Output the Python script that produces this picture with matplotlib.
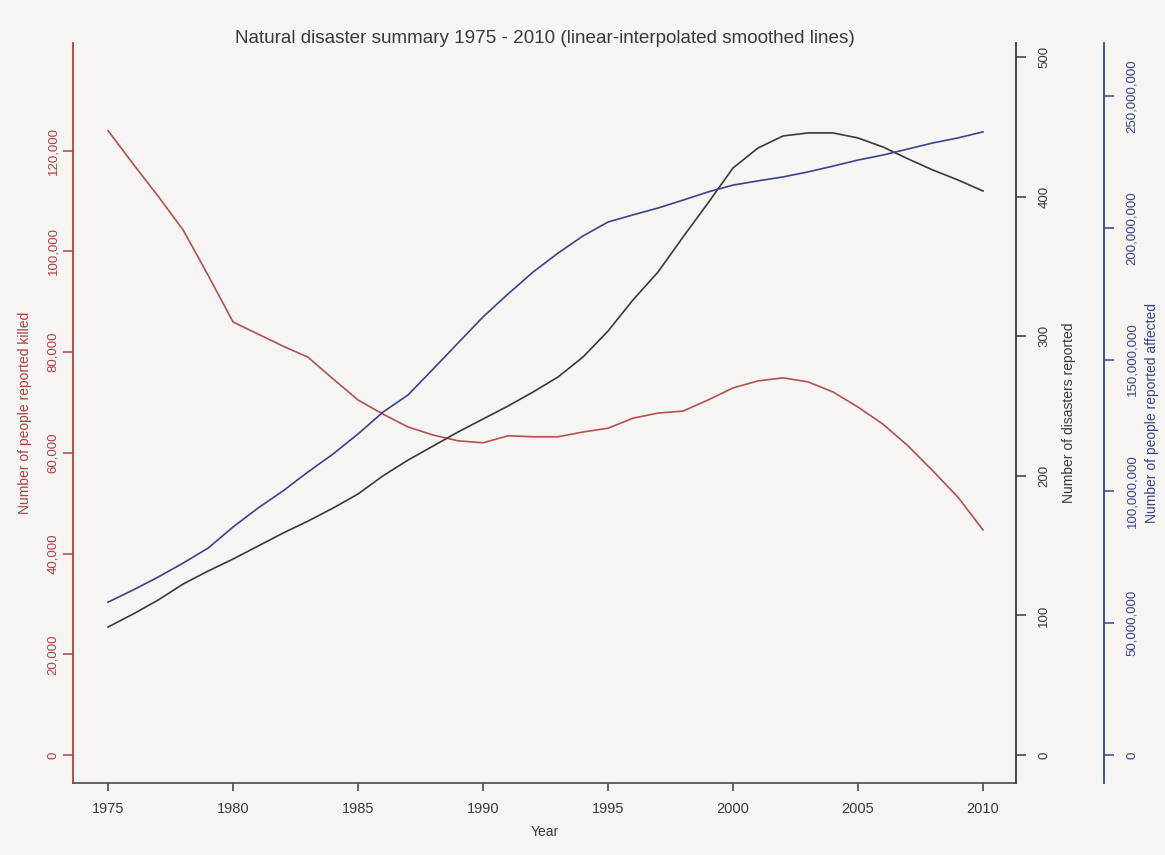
import numpy as np
import matplotlib.pyplot as plt
from matplotlib.ticker import StrMethodFormatter

plt.rcParams['font.family'] = ['Liberation Sans', 'DejaVu Sans']

years = list(range(1975, 2011))

# people reported killed (left axis)
killed = [124000, 117400, 111000, 104300, 95300, 86000, 83600, 81200, 79000, 74700,
          70500, 67700, 65150, 63550, 62400, 62000, 63400, 63200, 63200, 64150,
          64900, 66900, 67900, 68300, 70500, 72900, 74300, 74900, 74100, 72100,
          69100, 65700, 61400, 56400, 51200, 44700]

# number of disasters reported (first right axis)
disasters = [91.7, 101.0, 111.0, 122.5, 131.8, 140.4, 149.7, 159.0, 167.6, 176.9,
             187.0, 200.0, 211.3, 221.3, 231.4, 240.7, 250.0, 260.0, 270.8, 285.1,
             303.7, 326.0, 346.0, 371.0, 395.4, 420.5, 434.8, 443.4, 445.6, 445.6,
             442.0, 435.5, 427.0, 419.0, 411.9, 404.0]

# people reported affected (second right axis)
affected = [58.0e6, 62.6e6, 67.5e6, 72.8e6, 78.5e6, 86.5e6, 93.7e6, 100.2e6, 107.4e6, 114.2e6,
            121.8e6, 130.1e6, 136.6e6, 146.4e6, 156.3e6, 166.2e6, 174.9e6, 183.2e6, 190.4e6, 196.9e6,
            202.2e6, 204.9e6, 207.5e6, 210.5e6, 213.6e6, 216.2e6, 217.8e6, 219.3e6, 221.2e6, 223.4e6,
            225.7e6, 227.6e6, 229.9e6, 232.2e6, 234.1e6, 236.4e6]

red = '#b0403f'
blue = '#3c418e'
dark = '#3a3a3a'
bg = '#f7f4f4'

fig = plt.figure(figsize=(11.65, 8.55), dpi=100, facecolor=bg)
ax = fig.add_axes([0.0627, 0.0842, 0.8094, 0.8655], facecolor=bg)

ax.plot(years, killed, color='#b5504e', lw=1.2)
ax.set_xlim(1973.6, 2011.32)
ax.set_ylim(-5560, 141400)
ax.set_xticks(range(1975, 2011, 5))
ax.set_yticks(range(0, 120001, 20000))
ax.yaxis.set_major_formatter(StrMethodFormatter('{x:,.0f}'))
ax.tick_params(axis='y', colors=red, length=7, width=1.1, labelsize=9.5, pad=3,
               labelrotation=90)
ax.tick_params(axis='x', colors=dark, length=6, width=1.1, labelsize=10.5, pad=8)
ax.spines['top'].set_visible(False)
ax.spines['right'].set_visible(False)
ax.spines['left'].set_color(red)
ax.spines['left'].set_linewidth(1.3)
ax.spines['bottom'].set_color('#555555')
ax.spines['bottom'].set_linewidth(1.3)
ax.set_xlabel('Year', fontsize=10, color=dark, labelpad=6)
ax.set_ylabel('Number of people reported killed', fontsize=10, color=red)
ax.yaxis.set_label_coords(-0.044, 0.5)
ax.set_title('Natural disaster summary 1975 - 2010 (linear-interpolated smoothed lines)',
             fontsize=13.6, color=dark, pad=0, y=1.0)

ax2 = ax.twinx()
ax2.plot(years, disasters, color=dark, lw=1.2)
ax2.set_ylim(-20, 510)
ax2.set_yticks(range(0, 501, 100))
ax2.tick_params(axis='y', colors=dark, length=7, width=1.1, labelsize=9.5, pad=9,
                labelrotation=90)
for s in ['top', 'left', 'bottom']:
    ax2.spines[s].set_visible(False)
ax2.spines['right'].set_color(dark)
ax2.spines['right'].set_linewidth(1.3)
ax2.set_ylabel('Number of disasters reported', fontsize=10, color=dark)
ax2.yaxis.set_label_coords(1.049, 0.5)

ax3 = ax.twinx()
# offset is in points: 88 px at 100 dpi
ax3.spines['right'].set_position(('outward', 63.4))
ax3.plot(years, affected, color=blue, lw=1.2)
ax3.set_ylim(-10.6e6, 270.1e6)
ax3.set_yticks(np.arange(0, 250e6 + 1, 50e6))
ax3.yaxis.set_major_formatter(StrMethodFormatter('{x:,.0f}'))
ax3.tick_params(axis='y', colors=blue, length=7, width=1.1, labelsize=9.5, pad=9,
                labelrotation=90)
for s in ['top', 'left', 'bottom']:
    ax3.spines[s].set_visible(False)
ax3.spines['right'].set_color(blue)
ax3.spines['right'].set_linewidth(1.3)
ax3.set_ylabel('Number of people reported affected', fontsize=10, color=blue)
ax3.yaxis.set_label_coords(1.137, 0.5)

for a in (ax, ax2, ax3):
    for lab in a.get_yticklabels():
        lab.set_va('center')

fig.savefig('out.png', dpi=100, facecolor=bg)
